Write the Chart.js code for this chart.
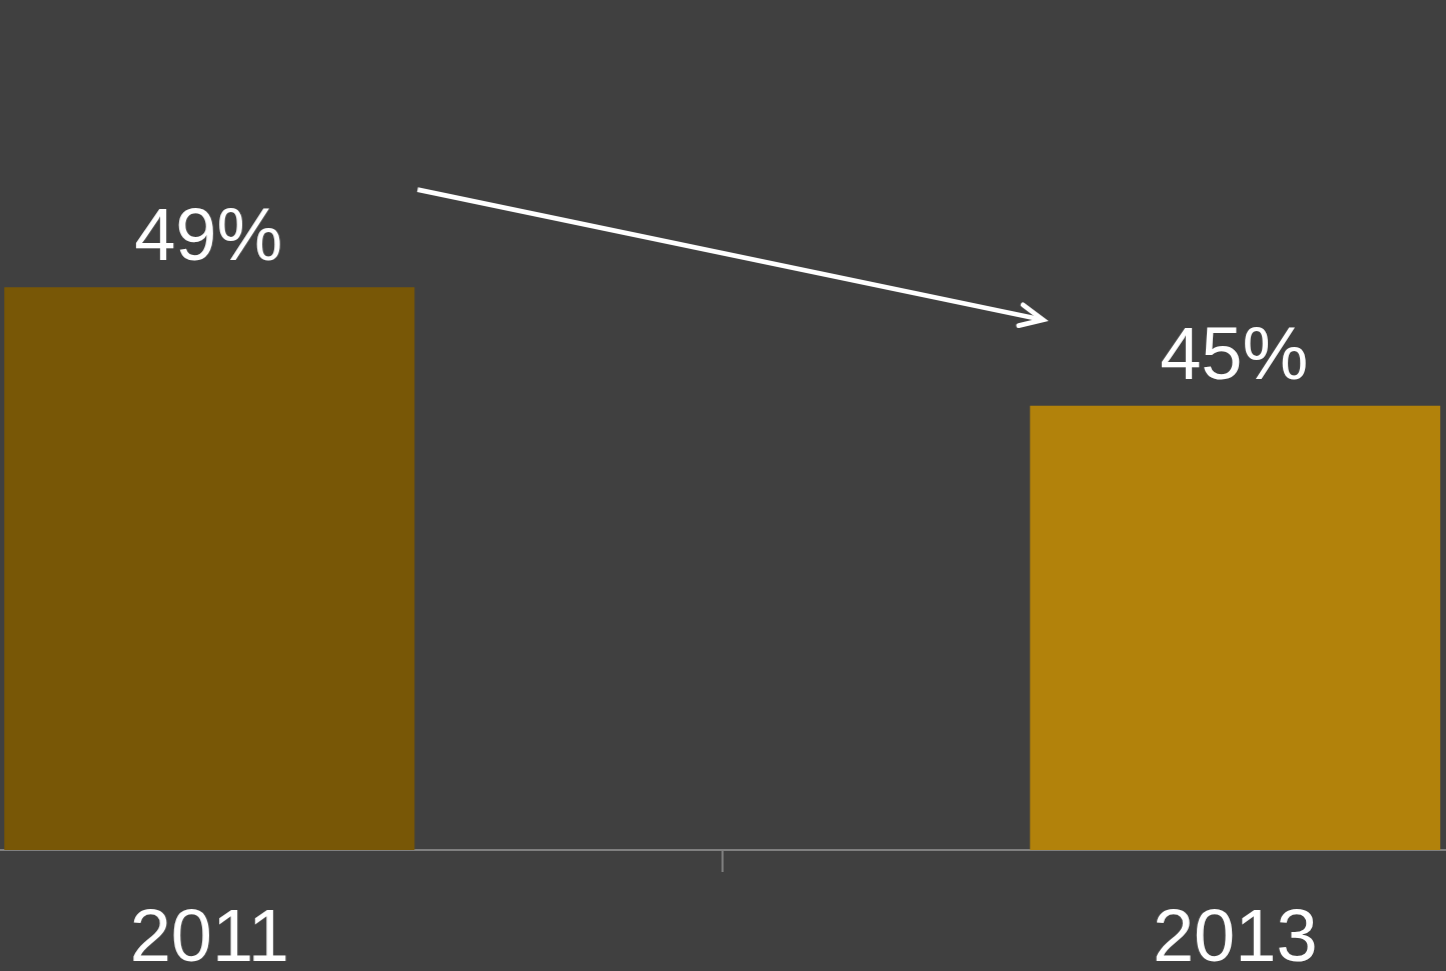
<!DOCTYPE html>
<html><head><meta charset="utf-8">
<script src="https://cdn.jsdelivr.net/npm/chart.js@4/dist/chart.umd.min.js"></script>
<style>
html,body{margin:0;padding:0;background:#404040;overflow:hidden;width:1446px;height:971px;}
#wrap{position:absolute;left:-46.75px;top:0;width:1537.5px;height:971px;}
</style></head><body><div id="wrap"><canvas id="c"></canvas></div>
<script>
const categories = ['2011', '', '2013'];
const values = [49, null, 45];
const valueLabels = ['49%', '', '45%'];
const barColors = ['#785706', 'rgba(0,0,0,0)', '#b2820b'];
const arrowValues = [52.3, 47.9];
const yMin = 30, yMax = 58.7;

const overlay = {
  id: 'overlay',
  afterDatasetsDraw(chart) {
    const ctx = chart.ctx;
    const meta = chart.getDatasetMeta(0);
    const ys = chart.scales.y;
    ctx.save();
    ctx.fillStyle = '#ffffff';
    ctx.font = '74px "Liberation Sans", Arial, sans-serif';
    ctx.textAlign = 'center';
    ctx.textBaseline = 'alphabetic';
    meta.data.forEach((bar, i) => {
      if (values[i] == null) return;
      ctx.fillText(valueLabels[i], bar.x - 1, bar.y - 27);
    });
    const b0 = meta.data[0], b2 = meta.data[2];
    const x1 = b0.x + b0.width / 2 + 3, y1 = ys.getPixelForValue(arrowValues[0]);
    const x2 = b2.x - b2.width / 2 + 13, y2 = ys.getPixelForValue(arrowValues[1]);
    ctx.strokeStyle = '#ffffff';
    ctx.lineWidth = 4.8;
    ctx.lineCap = 'butt';
    ctx.beginPath(); ctx.moveTo(x1, y1); ctx.lineTo(x2 - 3, y2 - 0.6); ctx.stroke();
    const ang = Math.atan2(y2 - y1, x2 - x1);
    const len = 25, spread = 25 * Math.PI / 180;
    ctx.lineCap = 'round';
    ctx.lineJoin = 'miter';
    ctx.beginPath();
    ctx.moveTo(x2 - len * Math.cos(ang - spread), y2 - len * Math.sin(ang - spread));
    ctx.lineTo(x2, y2);
    ctx.lineTo(x2 - len * Math.cos(ang + spread), y2 - len * Math.sin(ang + spread));
    ctx.stroke();
    ctx.restore();
  }
};

new Chart(document.getElementById('c'), {
  type: 'bar',
  data: {
    labels: categories,
    datasets: [{
      data: values,
      backgroundColor: barColors,
      borderWidth: 0,
      barPercentage: 0.8,
      categoryPercentage: 1.0
    }]
  },
  options: {
    responsive: true,
    maintainAspectRatio: false,
    animation: false,
    layout: { padding: 0 },
    plugins: { legend: { display: false }, tooltip: { enabled: false } },
    scales: {
      x: {
        type: 'category',
        offset: true,
        grid: {
          offset: false,
          drawOnChartArea: false,
          drawTicks: true,
          tickLength: 22,
          lineWidth: 2,
          color: (c) => c.index === 1 ? '#7f7f7f' : 'rgba(0,0,0,0)'
        },
        border: { display: true, color: '#808080', width: 2 },
        ticks: {
          color: '#ffffff',
          font: { family: '"Liberation Sans", Arial, sans-serif', size: 74 },
          padding: 24,
          maxRotation: 0,
          autoSkip: false
        },
        afterFit: (s) => { s.height = 121; }
      },
      y: { display: false, min: yMin, max: yMax }
    }
  },
  plugins: [overlay]
});
</script></body></html>
